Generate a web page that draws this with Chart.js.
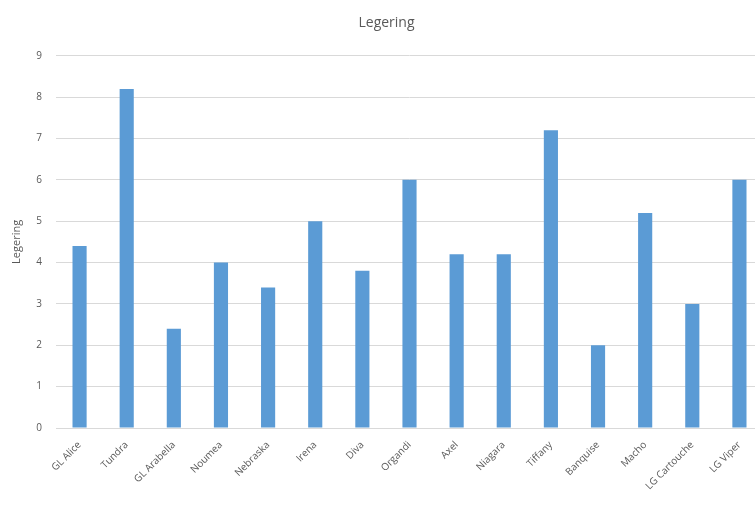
<!DOCTYPE html>
<html>
<head>
<meta charset="utf-8">
<script src="https://cdn.jsdelivr.net/npm/chart.js@4"></script>
<style>
    html, body { margin: 0; padding: 0; background: #fff; overflow: hidden; }
    #wrap { width: 770px; height: 508px; }
</style>
</head>
<body>
<div id="wrap"><canvas id="chart"></canvas></div>
<script>
const categories = ["GL Alice", "Tundra", "GL Arabella", "Noumea", "Nebraska", "Irena", "Diva",
    "Organdi", "Axel", "Niagara", "Tiffany", "Banquise", "Macho", "LG Cartouche", "LG Viper"];
const legering = [4.4, 8.2, 2.4, 4.0, 3.4, 5.0, 3.8, 6.0, 4.2, 4.2, 7.2, 2.0, 5.2, 3.0, 6.0];
const yTicks = [0, 1, 2, 3, 4, 5, 6, 7, 8, 9];

const textColor = "#595959";
const font = "'Open Sans', 'Liberation Sans', sans-serif";

const ctx = document.getElementById("chart").getContext("2d");

new Chart(ctx, {
    type: "bar",
    data: {
        labels: categories,
        datasets: [{
            label: "Legering",
            data: legering,
            backgroundColor: "#5b9bd5",
            borderWidth: 0,
            barPercentage: 0.6,
            categoryPercentage: 0.5
        }]
    },
    options: {
        responsive: true,
        maintainAspectRatio: false,
        animation: false,
        layout: { padding: { left: 10, right: 7, top: 0, bottom: 0 } },
        plugins: {
            legend: { display: false },
            tooltip: { enabled: false },
            title: {
                display: true,
                text: "Legering",
                color: textColor,
                font: { family: font, size: 14, weight: "normal" },
                padding: { top: 15, bottom: 24 }
            }
        },
        scales: {
            x: {
                grid: { display: false },
                border: { color: "#d9d9d9" },
                ticks: {
                    color: textColor,
                    font: { family: font, size: 10 },
                    minRotation: 45,
                    maxRotation: 45,
                    autoSkip: false
                },
                afterFit: (scale) => { scale.height = 80; }
            },
            y: {
                min: 0,
                max: 9,
                afterBuildTicks: (scale) => {
                    scale.ticks = yTicks.map(v => ({ value: v }));
                },
                grid: { color: "#d9d9d9", drawTicks: false },
                border: { display: false },
                ticks: {
                    color: textColor,
                    font: { family: font, size: 10 },
                    padding: 14
                },
                title: {
                    display: true,
                    text: "Legering",
                    color: textColor,
                    font: { family: font, size: 11 },
                    padding: 0
                },
                afterFit: (scale) => { scale.width = 46; }
            }
        }
    }
});
</script>
</body>
</html>
